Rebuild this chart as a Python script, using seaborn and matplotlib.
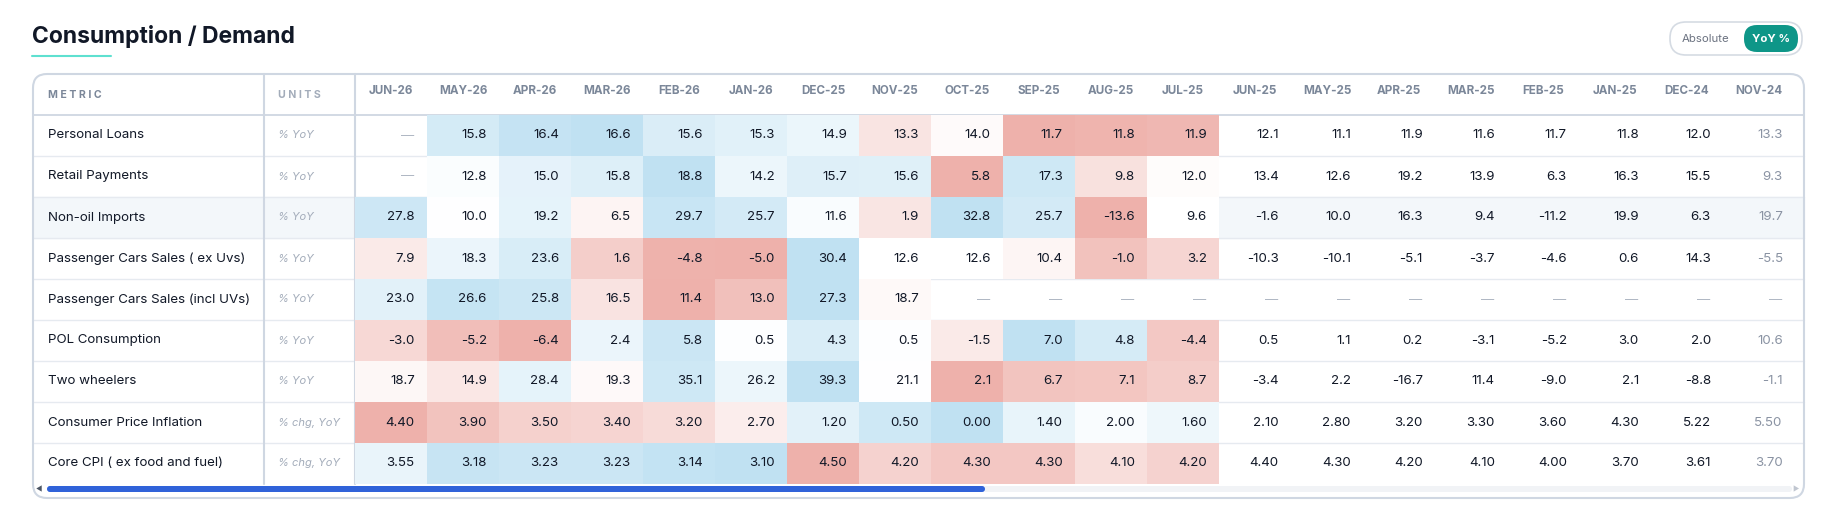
import numpy as np
import pandas as pd
import matplotlib
matplotlib.use("Agg")
import matplotlib.pyplot as plt
import seaborn as sns
from matplotlib.colors import LinearSegmentedColormap
from matplotlib.patches import FancyBboxPatch, Rectangle

sns.set_theme(style="white")
plt.rcParams['font.family'] = ['Inter', 'DejaVu Sans']

months = ["JUN-26", "MAY-26", "APR-26", "MAR-26", "FEB-26", "JAN-26", "DEC-25", "NOV-25",
          "OCT-25", "SEP-25", "AUG-25", "JUL-25", "JUN-25", "MAY-25", "APR-25", "MAR-25",
          "FEB-25", "JAN-25", "DEC-24", "NOV-24"]
metrics = ["Personal Loans", "Retail Payments", "Non-oil Imports", "Passenger Cars Sales ( ex Uvs)",
           "Passenger Cars Sales (incl UVs)", "POL Consumption", "Two wheelers",
           "Consumer Price Inflation", "Core CPI ( ex food and fuel)"]
units = ["% YoY"] * 7 + ["% chg, YoY", "% chg, YoY"]
N = np.nan
personal_loans = [N, 15.8, 16.4, 16.6, 15.6, 15.3, 14.9, 13.3, 14.0, 11.7, 11.8, 11.9,
                  12.1, 11.1, 11.9, 11.6, 11.7, 11.8, 12.0, 13.3]
retail_payments = [N, 12.8, 15.0, 15.8, 18.8, 14.2, 15.7, 15.6, 5.8, 17.3, 9.8, 12.0,
                   13.4, 12.6, 19.2, 13.9, 6.3, 16.3, 15.5, 9.3]
non_oil_imports = [27.8, 10.0, 19.2, 6.5, 29.7, 25.7, 11.6, 1.9, 32.8, 25.7, -13.6, 9.6,
                   -1.6, 10.0, 16.3, 9.4, -11.2, 19.9, 6.3, 19.7]
pc_ex_uvs = [7.9, 18.3, 23.6, 1.6, -4.8, -5.0, 30.4, 12.6, 12.6, 10.4, -1.0, 3.2,
             -10.3, -10.1, -5.1, -3.7, -4.6, 0.6, 14.3, -5.5]
pc_incl_uvs = [23.0, 26.6, 25.8, 16.5, 11.4, 13.0, 27.3, 18.7] + [N] * 12
pol = [-3.0, -5.2, -6.4, 2.4, 5.8, 0.5, 4.3, 0.5, -1.5, 7.0, 4.8, -4.4,
       0.5, 1.1, 0.2, -3.1, -5.2, 3.0, 2.0, 10.6]
two_wheelers = [18.7, 14.9, 28.4, 19.3, 35.1, 26.2, 39.3, 21.1, 2.1, 6.7, 7.1, 8.7,
                -3.4, 2.2, -16.7, 11.4, -9.0, 2.1, -8.8, -1.1]
cpi = [4.40, 3.90, 3.50, 3.40, 3.20, 2.70, 1.20, 0.50, 0.00, 1.40, 2.00, 1.60,
       2.10, 2.80, 3.20, 3.30, 3.60, 4.30, 5.22, 5.50]
core_cpi = [3.55, 3.18, 3.23, 3.23, 3.14, 3.10, 4.50, 4.20, 4.30, 4.30, 4.10, 4.20,
            4.40, 4.30, 4.20, 4.10, 4.00, 3.70, 3.61, 3.70]
decimals = [1, 1, 1, 1, 1, 1, 1, 2, 2]
inverted = [False] * 7 + [True, True]
n_colored = 12

values = pd.DataFrame([personal_loans, retail_payments, non_oil_imports, pc_ex_uvs, pc_incl_uvs,
                       pol, two_wheelers, cpi, core_cpi], index=metrics, columns=months)

# row-wise colour score over the first 12 months
score = np.full(values.shape, np.nan)
for i in range(len(metrics)):
    row = values.iloc[i, :n_colored].to_numpy(dtype=float)
    lo, hi = np.nanmin(row), np.nanmax(row)
    s = (row - (lo + hi) / 2) / ((hi - lo) / 2)
    if inverted[i]:
        s = -s
    score[i, :n_colored] = s
score_df = pd.DataFrame(score, index=metrics, columns=months)

W, H = 1830, 520
fig = plt.figure(figsize=(W / 100, H / 100), dpi=100)
bg = fig.add_axes([0, 0, 1, 1])
bg.set_xlim(0, W); bg.set_ylim(H, 0); bg.axis("off")

tl, tr, tt = 33, 1804, 74
hdr_b = 115
row_h = 41
tb = hdr_b + row_h * len(metrics)
c_units, c_data = 264, 355
col_w = 72
border = "#cfd7e2"

# hovered row background
bg.add_patch(Rectangle((tl, hdr_b + 2 * row_h), tr - tl, row_h, color="#f3f7fa", zorder=0))
# title
bg.text(32, 36, "Consumption / Demand", fontsize=16.5, fontweight="bold", color="#111827",
        va="center", ha="left")
bg.plot([32, 111], [56, 56], color="#5ee0d0", lw=1.5)
# toggle
bg.add_patch(FancyBboxPatch((1670, 22), 132, 33, boxstyle="round,pad=0,rounding_size=16",
                            fc="white", ec="#d5dbe3", lw=1.2))
bg.add_patch(FancyBboxPatch((1744, 25), 54, 27, boxstyle="round,pad=0,rounding_size=13",
                            fc="#0e9688", ec="none"))
bg.text(1706, 39, "Absolute", fontsize=8.2, color="#6b7280", ha="center", va="center")
bg.text(1771, 39, "YoY %", fontsize=8.2, color="white", fontweight="bold", ha="center", va="center")

# metric / units columns
bg.text(48, 94.5, "M E T R I C", fontsize=7.6, fontweight="bold", color="#7b8799", va="center")
bg.text(278, 94.5, "U N I T S", fontsize=7.6, fontweight="bold", color="#a3acba", va="center")
for i, (m, u) in enumerate(zip(metrics, units)):
    yc = hdr_b + row_h * (i + 0.5)
    bg.text(48, yc, m, fontsize=9.6, color="#111827", va="center")
    bg.text(278, yc, u, fontsize=8, color="#a3acba", style="italic", va="center")

# heatmap
ax = fig.add_axes([c_data / W, 1 - tb / H, (tr - c_data) / W, (tb - hdr_b) / H])
cmap = LinearSegmentedColormap.from_list("rb", ["#eeb1ab", "#ffffff", "#c0e1f2"])
sns.heatmap(score_df, ax=ax, cmap=cmap, vmin=-1, vmax=1, cbar=False, annot=False,
            linewidths=0, xticklabels=True, yticklabels=False)
ax.patch.set_alpha(0)
ax.set_xlim(0, (tr - c_data) / col_w)
ax.xaxis.tick_top()
ax.tick_params(axis="x", length=0, pad=13, labelrotation=0)
for lbl in ax.get_xticklabels():
    lbl.set_fontsize(8.4); lbl.set_fontweight("bold"); lbl.set_color("#7b8799")
ax.set_xlabel(""); ax.set_ylabel("")
for sp in ax.spines.values():
    sp.set_visible(False)
for i in range(len(metrics)):
    for j in range(len(months)):
        v = values.iat[i, j]
        col = "#111827" if j < len(months) - 1 else "#8a93a3"
        if np.isnan(v):
            ax.text(j + 0.82, i + 0.5, "—", ha="right", va="center", fontsize=9.5, color="#b0b8c4")
        else:
            txt = f"{v:.{decimals[i]}f}"
            ax.text(j + 0.83, i + 0.5, txt, ha="right", va="center", fontsize=9.6, color=col,
                    clip_on=True)

# grid lines
for k in range(1, len(metrics)):
    bg.plot([tl, tr], [hdr_b + k * row_h] * 2, color="#e6eaf0", lw=1, zorder=5)
bg.plot([tl, tr], [hdr_b, hdr_b], color=border, lw=1.3, zorder=5)
for x in (c_units, c_data):
    bg.plot([x, x], [tt, tb], color=border, lw=1.5, zorder=5)
bg.add_patch(FancyBboxPatch((tl, tt), tr - tl, 424, boxstyle="round,pad=0,rounding_size=14",
                            fc="none", ec=border, lw=1.5, zorder=6))
# scrollbar
bg.add_patch(FancyBboxPatch((47, 486), 1745, 6, boxstyle="round,pad=0,rounding_size=3",
                            fc="#f1f3f6", ec="none", zorder=6))
bg.add_patch(FancyBboxPatch((47, 486), 938, 6, boxstyle="round,pad=0,rounding_size=3",
                            fc="#2f62d9", ec="none", zorder=7))
bg.text(39, 489, "◀", fontsize=5, color="#4b5563", ha="center", va="center")
bg.text(1796, 489, "▶", fontsize=5, color="#c0c6d0", ha="center", va="center")

fig.savefig("out.png", dpi=100)
